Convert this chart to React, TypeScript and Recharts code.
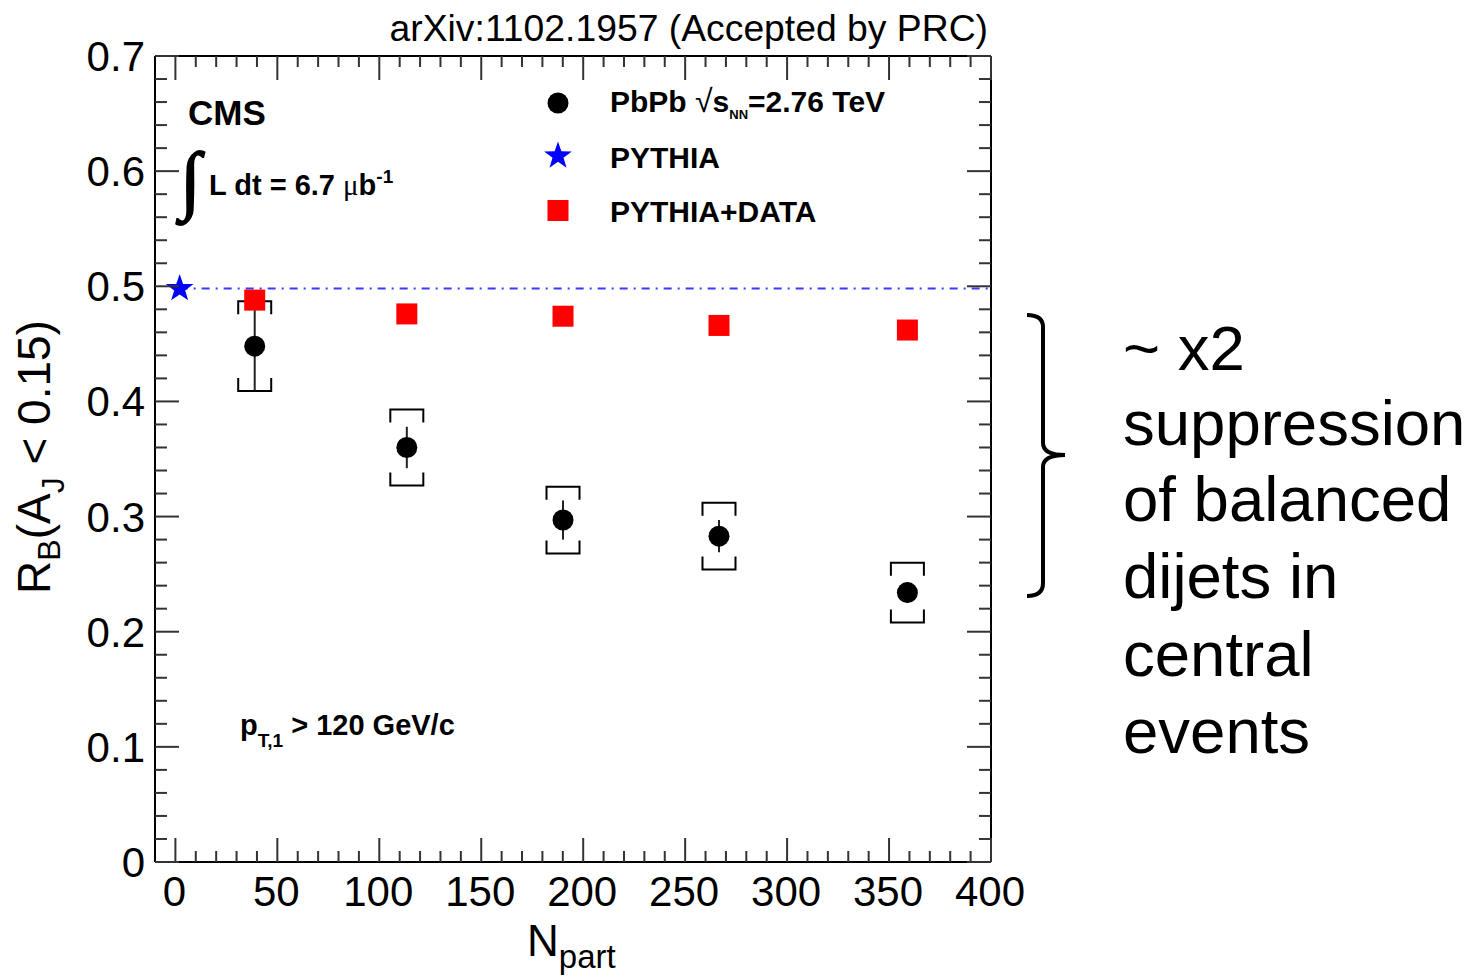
import React from 'react'
import { ScatterChart, Scatter, XAxis, YAxis, ErrorBar, ReferenceLine, Legend, Label } from 'recharts'

const FONT = '"Liberation Sans", Arial, Helvetica, sans-serif'

// PbPb data vs N_part
const nPart = [38.9, 113.5, 190.1, 266.6, 359.0]
const rbPbPb = [0.448, 0.36, 0.297, 0.283, 0.234]
const statErr = [0.039, 0.018, 0.017, 0.014, 0.009]
const sysErr = [0.039, 0.033, 0.029, 0.029, 0.026]

// PYTHIA+DATA embedding
const rbPythiaData = [0.488, 0.476, 0.474, 0.466, 0.462]

// pp PYTHIA reference
const pythiaNPart = [2.1]
const rbPythia = [0.498]

const xMajor = [0, 50, 100, 150, 200, 250, 300, 350, 400]
const xTicks = Array.from({ length: 41 }, (_, i) => i * 10)
const yMajor = [0, 0.1, 0.2, 0.3, 0.4, 0.5, 0.6, 0.7]
const yTicks = Array.from({ length: 36 }, (_, i) => +(i * 0.02).toFixed(2))

const pbpb = nPart.map((x, i) => ({ x, y: rbPbPb[i], stat: statErr[i] }))
const sysHi = nPart.map((x, i) => ({ x, y: rbPbPb[i] + sysErr[i] }))
const sysLo = nPart.map((x, i) => ({ x, y: rbPbPb[i] - sysErr[i] }))
const embed = nPart.map((x, i) => ({ x, y: rbPythiaData[i] }))
const pythia = pythiaNPart.map((x, i) => ({ x, y: rbPythia[i] }))

const isMajorY = (v: number) => yMajor.some((m) => Math.abs(m - v) < 1e-6)

function starPath(cx: number, cy: number, R: number, r: number) {
  let d = ''
  for (let i = 0; i < 10; i++) {
    const a = ((-90 + i * 36) * Math.PI) / 180
    const rad = i % 2 ? r : R
    d += `${i ? 'L' : 'M'}${cx + rad * Math.cos(a)},${cy + rad * Math.sin(a)}`
  }
  return d + 'Z'
}

const Dot = (p: any) => <circle cx={p.cx} cy={p.cy} r={10.5} fill="#000" />
const Square = (p: any) => <rect x={p.cx - 10.5} y={p.cy - 10.5} width={21} height={21} fill="#ff0000" />
const Star = (p: any) => <path d={starPath(p.cx, p.cy, 14.5, 5.8)} fill="#0000ff" />
const BracketTop = (p: any) => (
  <path d={`M${p.cx - 16.5},${p.cy + 13}V${p.cy}H${p.cx + 16.5}V${p.cy + 13}`} fill="none" stroke="#000" strokeWidth={2} />
)
const BracketBottom = (p: any) => (
  <path d={`M${p.cx - 16.5},${p.cy - 13}V${p.cy}H${p.cx + 16.5}V${p.cy - 13}`} fill="none" stroke="#000" strokeWidth={2} />
)

const tickStroke = '#333'

const BottomTick = (p: any) => {
  const v = p.payload.value
  const major = xMajor.includes(v)
  return (
    <g>
      <line x1={p.x} x2={p.x} y1={p.y} y2={p.y - (major ? 24 : 11)} stroke={tickStroke} strokeWidth={2} />
      {major && (
        <text x={p.x - 1} y={p.y + 44} textAnchor="middle" fontSize={42} fontFamily={FONT} fill="#000">
          {v}
        </text>
      )}
    </g>
  )
}
const TopTick = (p: any) => {
  const major = xMajor.includes(p.payload.value)
  return <line x1={p.x} x2={p.x} y1={p.y} y2={p.y + (major ? 24 : 11)} stroke={tickStroke} strokeWidth={2} />
}
const LeftTick = (p: any) => {
  const v = p.payload.value
  const major = isMajorY(v)
  return (
    <g>
      <line x1={p.x} x2={p.x + (major ? 24 : 12)} y1={p.y} y2={p.y} stroke={tickStroke} strokeWidth={2} />
      {major && (
        <text x={p.x - 10} y={p.y + 15} textAnchor="end" fontSize={42} fontFamily={FONT} fill="#000">
          {v}
        </text>
      )}
    </g>
  )
}
const RightTick = (p: any) => {
  const major = isMajorY(p.payload.value)
  return <line x1={p.x} x2={p.x - (major ? 24 : 12)} y1={p.y} y2={p.y} stroke={tickStroke} strokeWidth={2} />
}

const LegendBox = () => (
  <svg width={420} height={170} style={{ overflow: 'visible', display: 'block' }}>
    <g fontFamily={FONT} fontWeight="bold" fontSize={30} fill="#000">
      <circle cx={28} cy={28} r={10.5} fill="#000" />
      <text x={80} y={37}>
        PbPb <tspan fontWeight="normal" fontSize={32}>√</tspan>s
        <tspan fontSize={13} dy={7}>NN</tspan>
        <tspan dy={-7}>=2.76 TeV</tspan>
      </text>
      <path d={starPath(28, 81, 14.5, 5.8)} fill="#0000ff" />
      <text x={80} y={93}>PYTHIA</text>
      <rect x={17.5} y={125} width={21} height={21} fill="#ff0000" />
      <text x={80} y={147}>PYTHIA+DATA</text>
    </g>
  </svg>
)

export default function App() {
  return (
    <div style={{ position: 'absolute', left: 0, top: 0, width: 1470, height: 977, background: '#fff' }}>
      <ScatterChart width={1470} height={977} margin={{ top: 55, right: 478, bottom: 55, left: 75 }}>
        <XAxis
          dataKey="x"
          type="number"
          domain={[-10, 400]}
          ticks={xTicks}
          interval={0}
          height={60}
          tickSize={0}
          tickMargin={0}
          tickLine={false}
          tick={BottomTick}
          axisLine={{ stroke: '#000', strokeWidth: 2 }}
          allowDataOverflow
        >
          <Label
            content={() => (
              <text x={527} y={956} fontSize={44} fontFamily={FONT} fill="#000">
                N<tspan fontSize={33} dy={12}>part</tspan>
              </text>
            )}
          />
        </XAxis>
        <XAxis
          xAxisId="top"
          dataKey="x"
          type="number"
          orientation="top"
          domain={[-10, 400]}
          ticks={xTicks}
          interval={0}
          height={1}
          tickSize={0}
          tickMargin={0}
          tickLine={false}
          tick={TopTick}
          axisLine={{ stroke: '#000', strokeWidth: 2 }}
          allowDataOverflow
        />
        <YAxis
          dataKey="y"
          type="number"
          domain={[0, 0.7]}
          ticks={yTicks}
          interval={0}
          width={80}
          tickSize={0}
          tickMargin={0}
          tickLine={false}
          tick={LeftTick}
          axisLine={{ stroke: '#000', strokeWidth: 2 }}
          allowDataOverflow
        >
          <Label
            content={() => (
              <text transform="translate(50,457) rotate(-90)" textAnchor="middle" fontSize={46} fontFamily={FONT} fill="#000">
                R<tspan fontSize={32} dy={10}>B</tspan>
                <tspan dy={-10}>(A</tspan>
                <tspan fontSize={32} dy={14}>J</tspan>
                <tspan dy={-14}> &lt; 0.15)</tspan>
              </text>
            )}
          />
        </YAxis>
        <YAxis
          yAxisId="right"
          dataKey="y"
          type="number"
          orientation="right"
          domain={[0, 0.7]}
          ticks={yTicks}
          interval={0}
          width={1}
          tickSize={0}
          tickMargin={0}
          tickLine={false}
          tick={RightTick}
          axisLine={{ stroke: '#000', strokeWidth: 2 }}
          allowDataOverflow
        />
        <ReferenceLine
          segment={[
            { x: pythiaNPart[0], y: rbPythia[0] },
            { x: 400, y: rbPythia[0] },
          ]}
          stroke="#3a3aff"
          strokeWidth={2}
          strokeDasharray="8 6 2 6"
        />
        <Scatter name="sysHi" data={sysHi} shape={BracketTop} isAnimationActive={false} legendType="none" />
        <Scatter name="sysLo" data={sysLo} shape={BracketBottom} isAnimationActive={false} legendType="none" />
        <Scatter name="PYTHIA+DATA" data={embed} shape={Square} isAnimationActive={false} />
        <Scatter name="PYTHIA" data={pythia} shape={Star} isAnimationActive={false} />
        <Scatter name="PbPb" data={pbpb} shape={Dot} isAnimationActive={false}>
          <ErrorBar dataKey="stat" direction="y" width={0} stroke="#222" strokeWidth={2} />
        </Scatter>
        <Legend
          layout="vertical"
          align="center"
          verticalAlign="middle"
          content={<LegendBox />}
          wrapperStyle={{ position: 'absolute', left: 530, top: 75, width: 420, height: 170 }}
        />
      </ScatterChart>

      <svg width={1470} height={977} style={{ position: 'absolute', left: 0, top: 0, pointerEvents: 'none' }}>
        <text x={988} y={41} textAnchor="end" fontSize={37.3} fontFamily={FONT} fill="#000">
          arXiv:1102.1957 (Accepted by PRC)
        </text>
        <g fontFamily={FONT} fontWeight="bold" fill="#000">
          <text x={188} y={125} fontSize={35}>CMS</text>
          <text
            x={180}
            y={205}
            fontSize={76}
            fontWeight="normal"
            fontFamily='"Liberation Serif", serif'
            fontStyle="italic"
            stroke="#000"
            strokeWidth={1.6}
          >
            ∫
          </text>
          <text x={209} y={195} fontSize={29}>
            L dt = 6.7 <tspan fontWeight="normal" fontFamily='"Liberation Serif", serif'>μ</tspan>b
            <tspan fontSize={19} dy={-12}>-1</tspan>
          </text>
          <text x={240} y={735} fontSize={29}>
            p<tspan fontSize={19} dy={12}>T,1</tspan>
            <tspan dy={-12}> &gt; 120 GeV/c</tspan>
          </text>
        </g>
        <path
          d="M1027,315 Q1043,315 1043,327 V443 Q1043,455 1065,455 Q1043,455 1043,467 V583 Q1043,596 1027,596"
          fill="none"
          stroke="#000"
          strokeWidth={4}
        />
        <g fontFamily={FONT} fontSize={63.5} fill="#000">
          <text x={1123} y={370}>~ x2</text>
          <text x={1123} y={445}>suppression</text>
          <text x={1123} y={521}>of balanced</text>
          <text x={1123} y={598}>dijets in</text>
          <text x={1123} y={676}>central</text>
          <text x={1123} y={753}>events</text>
        </g>
      </svg>
    </div>
  )
}
